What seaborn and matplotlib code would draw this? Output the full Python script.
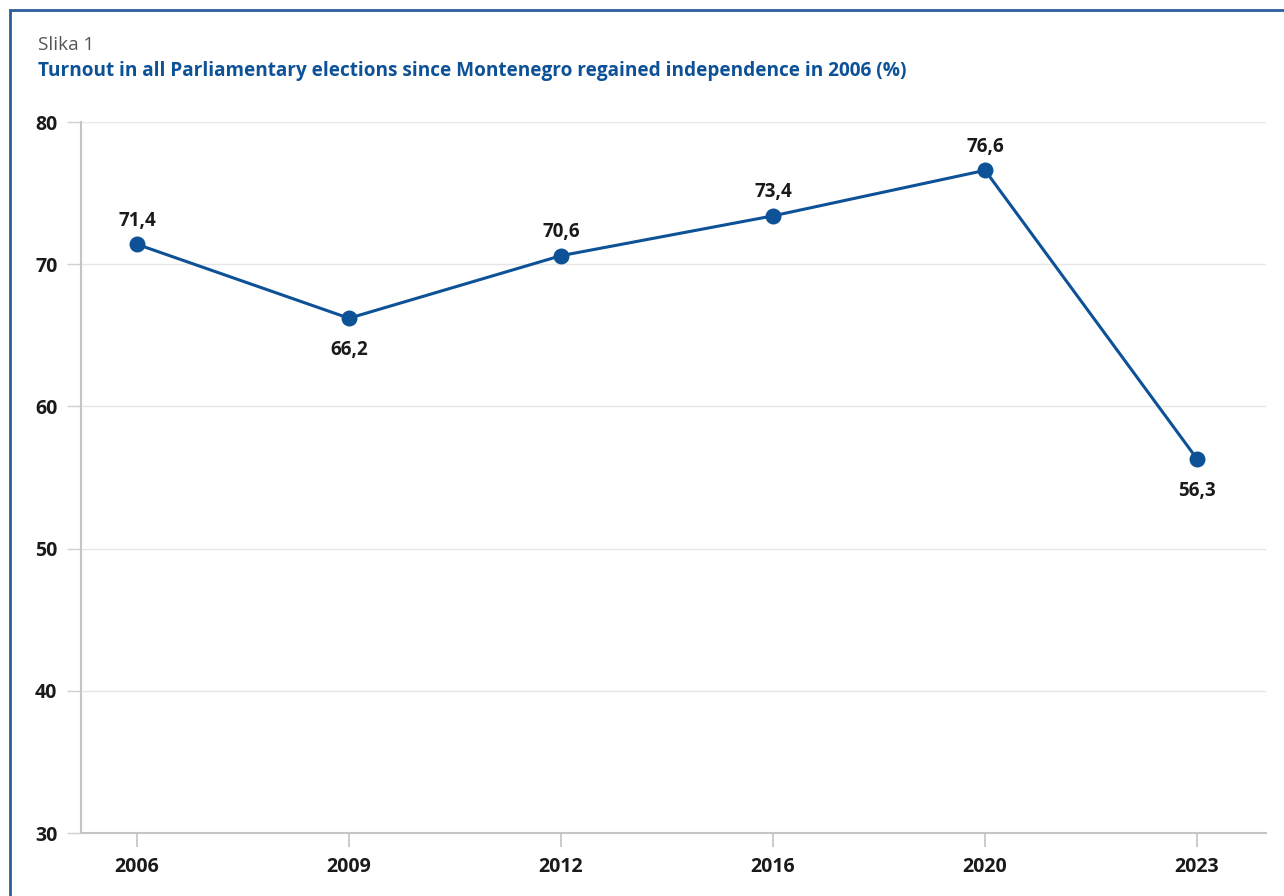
import matplotlib
matplotlib.use("Agg")
import matplotlib.pyplot as plt
import seaborn as sns
import pandas as pd
from matplotlib.patches import Rectangle

years = ["2006", "2009", "2012", "2016", "2020", "2023"]
turnout = [71.4, 66.2, 70.6, 73.4, 76.6, 56.3]
label_pos = ["above", "below", "above", "above", "above", "below"]
y_ticks = [30, 40, 50, 60, 70, 80]

sns.set_theme(style="white")
plt.rcParams["font.family"] = ["Open Sans", "DejaVu Sans"]

blue = "#0d5197"
df = pd.DataFrame({"year": years, "turnout": turnout})

fig = plt.figure(figsize=(12.84, 8.96), dpi=100)
ax = fig.add_axes([81/1284, 1-833/896, (1266-81)/1284, (833-122)/896])

sns.lineplot(data=df, x="year", y="turnout", ax=ax, color=blue, linewidth=2.2,
             marker="o", markersize=11.5, markeredgewidth=0, sort=False)

ax.set_ylim(30, 80)
ax.set_xlim(-0.264, 5.325)
ax.set_yticks(y_ticks)
ax.set_xlabel("")
ax.set_ylabel("")
ax.grid(axis="y", color="#e6e6e6", linewidth=1)
ax.set_axisbelow(True)
for s in ["top", "right"]:
    ax.spines[s].set_visible(False)
for s in ["left", "bottom"]:
    ax.spines[s].set_color("#c4c4c4")
    ax.spines[s].set_linewidth(1.5)
ax.tick_params(axis="y", left=True, length=10, width=1, color="#d0d0d0",
               labelsize=14, pad=7)
ax.tick_params(axis="x", bottom=True, length=10, width=1.2, color="#c4c4c4",
               labelsize=14, pad=7)
for lab in ax.get_xticklabels() + ax.get_yticklabels():
    lab.set_fontweight("bold")
    lab.set_color("#1a1a1a")

for i, (v, p) in enumerate(zip(turnout, label_pos)):
    txt = f"{v:.1f}".replace(".", ",")
    off = 17 if p == "above" else -23
    ax.annotate(txt, (i, v), xytext=(0, off), textcoords="offset points",
                ha="center", va="center", fontsize=13.5, fontweight="bold",
                color="#1a1a1a")

fig.text(38/1284, 1-45/896, "Slika 1", fontsize=13.7, color="#555555",
         va="center", ha="left")
fig.text(38/1284, 1-71/896,
         "Turnout in all Parliamentary elections since Montenegro regained independence in 2006 (%)",
         fontsize=13.7, fontweight="bold", color=blue, va="center", ha="left")

fig.patches.append(Rectangle((10.5/1284, -0.05), 1.2, 1 - 10.5/896 + 0.05,
                             transform=fig.transFigure, fill=False,
                             edgecolor="#2a5f9a", linewidth=2))

fig.savefig("out.png", dpi=100)
